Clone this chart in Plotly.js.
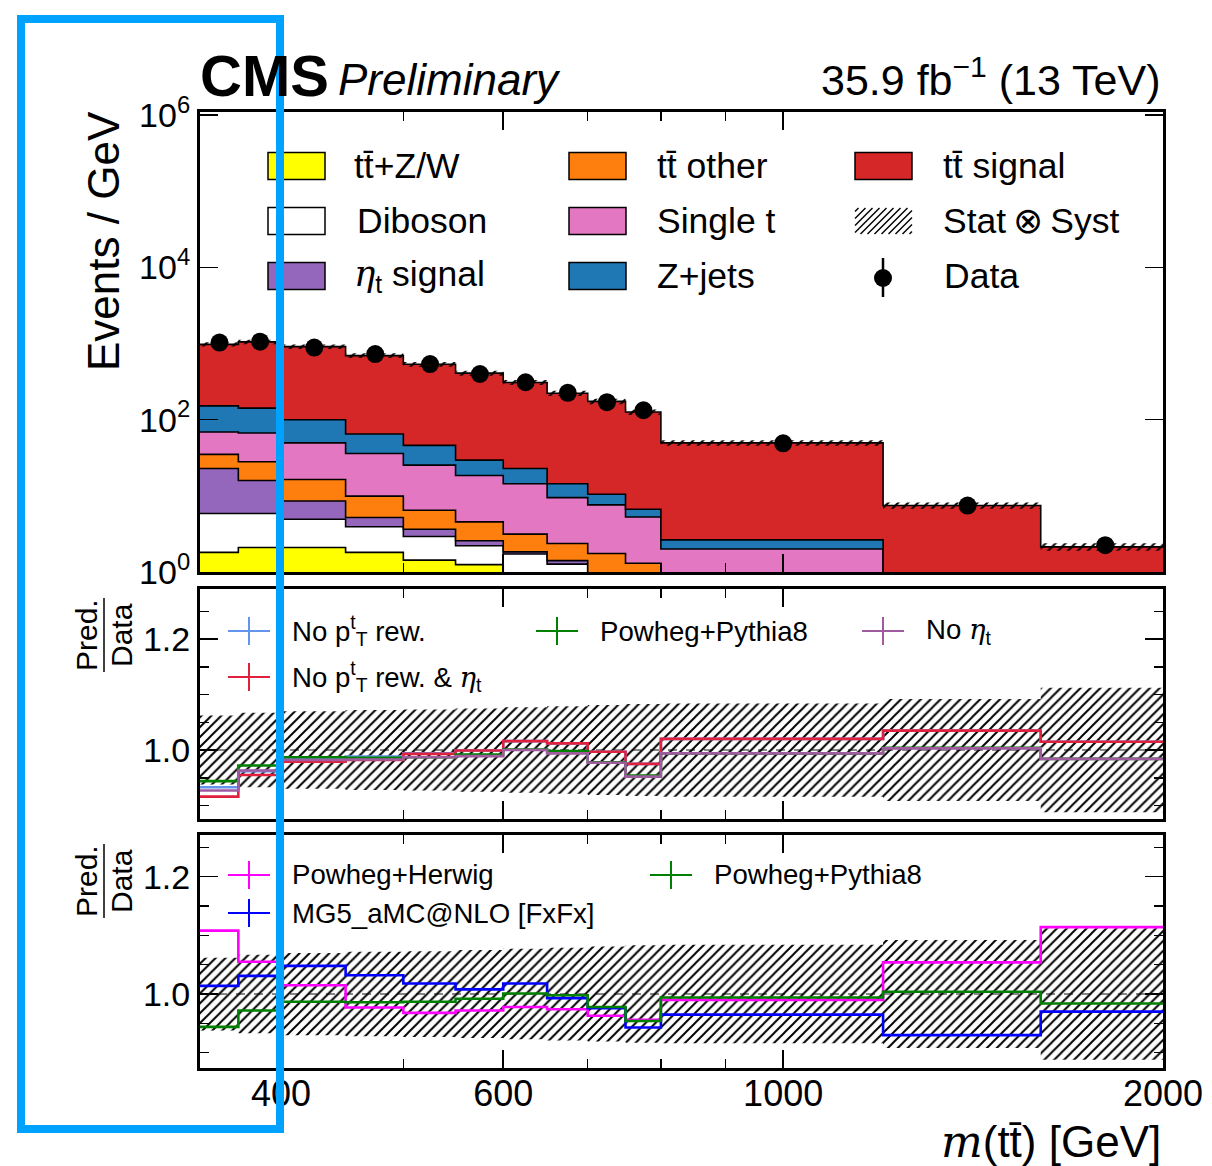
<!DOCTYPE html>
<html>
<head>
<meta charset="utf-8">
<script src="https://cdn.plot.ly/plotly-3.0.1.min.js"></script>
<style>html,body{margin:0;padding:0;background:#fff;}#chart{width:1212px;height:1166px;}</style>
</head>
<body>
<div id="chart"></div>
<script>
// ---------------- DATA ----------------
const binEdges = [345, 370, 400, 450, 500, 550, 600, 650, 700, 750, 800, 1200, 1600, 2000];
// stacked components, events / GeV (bottom to top)
const ttZW      = [1.81, 2.1, 2.1, 1.81, 1.43, 1.25, 0.7, 0.5, 0.3, 0.2, 0.1, 0.05, 0.02];
const diboson   = [4.04, 3.75, 2.83, 2.11, 1.5, 0.96, 1.02, 0.77, 0.55, 0.3, 0.2, 0.1, 0.05];
const etaSignal = [17.05, 10.05, 3.62, 1.28, 0.72, 0.36, 0.12, 0.14, 0.1, 0.1, 0.05, 0.02, 0.01];
const ttOther   = [12.1, 12.1, 7.85, 4.7, 2.81, 1.98, 1.3, 0.96, 0.8, 0.7, 0.45, 0.2, 0.1];
const singleT   = [34, 39, 33.2, 26.1, 18.84, 13.95, 11.26, 7.1, 5.85, 3.98, 1.2, 0.3, 0.1];
const zJets     = [83, 75, 50.4, 29, 20.7, 10.9, 8.5, 4.93, 2.9, 1.38, 0.64, 0.2, 0.1];
const ttSignal  = [823, 908, 810, 628, 488, 378.6, 285.1, 207.6, 163.5, 119.3, 46.96, 6.6, 1.76];
const dataVals  = [1028, 1059, 885, 726, 537, 398, 310, 225, 170, 133, 48.9, 7.45, 2.25];
// relative Stat (x) Syst uncertainty
const uncRel    = [0.062, 0.067, 0.070, 0.072, 0.073, 0.075, 0.077, 0.079, 0.081, 0.083, 0.084, 0.092, 0.112];
// ratio panel 1 (Pred./Data)
const noPtRew        = [0.933, 0.962, 0.985, 0.988, 0.994, 0.999, 1.016, 1.012, 0.997, 0.975, 1.020, 1.035, 1.015];
const noPtRewNoEta   = [0.916, 0.955, 0.979, 0.982, 0.993, 0.999, 1.016, 1.012, 0.997, 0.975, 1.020, 1.035, 1.015];
const powhegPythia8  = [0.944, 0.972, 0.987, 0.986, 0.987, 0.992, 1.001, 0.998, 0.978, 0.954, 0.994, 1.004, 0.984];
const noEta          = [0.927, 0.963, 0.982, 0.983, 0.987, 0.989, 1.000, 0.994, 0.977, 0.952, 0.994, 1.003, 0.984];
// ratio panel 2
const powhegHerwig   = [1.108, 1.055, 1.015, 0.977, 0.968, 0.972, 0.978, 0.974, 0.963, 0.956, 0.990, 1.054, 1.114];
const mg5FxFx        = [1.014, 1.031, 1.048, 1.032, 1.018, 1.008, 1.018, 0.993, 0.976, 0.943, 0.965, 0.930, 0.970];
const xTickVals = [400, 600, 1000, 2000];
const xTickText = ['400', '600', '1000', '2000'];
const xMinorVals = [500, 700, 800, 900];

// ---------------- GEOMETRY HELPERS ----------------
const W = 1212, H = 1166, ML = 200, MR = 49, MT = 112, MB = 98;
const PW = W - ML - MR, PH = H - MT - MB;
const px = x => (x - ML) / PW;
const py = y => (H - MB - y) / PH;
const FONT = 'Liberation Sans, Arial, Helvetica, sans-serif';

const stepY = v => v.concat([v[v.length - 1]]);
const centers = binEdges.slice(0, -1).map((e, i) => 0.5 * (e + binEdges[i + 1]));

const traces = [];
// ---------------- TOP PANEL STACK ----------------
const comps = [
  {v: ttZW, c: '#ffff00'},
  {v: diboson, c: '#ffffff'},
  {v: etaSignal, c: '#9467bd'},
  {v: ttOther, c: '#ff7f0e'},
  {v: singleT, c: '#e377c2'},
  {v: zJets, c: '#1f77b4'},
  {v: ttSignal, c: '#d62728'}
];
traces.push({x: binEdges, y: stepY(binEdges.slice(0, -1).map(() => 1e-3)), xaxis: 'x', yaxis: 'y',
  mode: 'lines', line: {shape: 'hv', width: 0, color: 'rgba(0,0,0,0)'}, hoverinfo: 'skip', showlegend: false});
let cum = binEdges.slice(0, -1).map(() => 0);
comps.forEach(cp => {
  cum = cum.map((s, i) => s + cp.v[i]);
  traces.push({x: binEdges, y: stepY(cum.slice()), xaxis: 'x', yaxis: 'y', mode: 'lines',
    line: {shape: 'hv', width: 1.6, color: '#000'}, fill: 'tonexty', fillcolor: cp.c, showlegend: false});
});
const total = cum.slice();
const hatch = {shape: '/', fgcolor: '#000', bgcolor: 'rgba(0,0,0,0)', size: 7, solidity: 0.28};
traces.push({x: binEdges, y: stepY(total.map((t, i) => t * (1 - uncRel[i]))), xaxis: 'x', yaxis: 'y',
  mode: 'lines', line: {shape: 'hv', width: 0, color: 'rgba(0,0,0,0)'}, showlegend: false});
traces.push({x: binEdges, y: stepY(total.map((t, i) => t * (1 + uncRel[i]))), xaxis: 'x', yaxis: 'y',
  mode: 'lines', line: {shape: 'hv', width: 0, color: 'rgba(0,0,0,0)'}, fill: 'tonexty',
  fillcolor: 'rgba(0,0,0,0)', fillpattern: hatch, showlegend: false});
traces.push({x: centers, y: dataVals, xaxis: 'x', yaxis: 'y', mode: 'markers',
  marker: {size: 18, color: '#000'}, showlegend: false});

// ---------------- RATIO PANELS ----------------
function band(xa, ya) {
  traces.push({x: binEdges, y: stepY(uncRel.map(u => 1 - u)), xaxis: xa, yaxis: ya, mode: 'lines',
    line: {shape: 'hv', width: 0, color: 'rgba(0,0,0,0)'}, showlegend: false});
  traces.push({x: binEdges, y: stepY(uncRel.map(u => 1 + u)), xaxis: xa, yaxis: ya, mode: 'lines',
    line: {shape: 'hv', width: 0, color: 'rgba(0,0,0,0)'}, fill: 'tonexty', fillcolor: 'rgba(0,0,0,0)',
    fillpattern: hatch, showlegend: false});
}
function ratioLine(v, color, xa, ya) {
  traces.push({x: binEdges, y: stepY(v), xaxis: xa, yaxis: ya, mode: 'lines',
    line: {shape: 'hv', width: 2.6, color: color}, showlegend: false});
}
const C_BLUE = '#6495ed', C_RED = '#e0203c', C_GREEN = '#008000', C_PURP = '#a05aa0', C_MAG = '#ff00ff', C_MG = '#0000ff';
band('x2', 'y2');
ratioLine(noPtRew, C_BLUE, 'x2', 'y2');
ratioLine(noPtRewNoEta, C_RED, 'x2', 'y2');
ratioLine(powhegPythia8, C_GREEN, 'x2', 'y2');
ratioLine(noEta, C_PURP, 'x2', 'y2');
band('x3', 'y3');
ratioLine(powhegHerwig, C_MAG, 'x3', 'y3');
ratioLine(mg5FxFx, C_MG, 'x3', 'y3');
ratioLine(powhegPythia8, C_GREEN, 'x3', 'y3');

// ---------------- AXES ----------------
const xr = [Math.log10(binEdges[0]), Math.log10(binEdges[binEdges.length - 1])];
function xAxis(anchor, labels) {
  return {type: 'log', range: xr, domain: [0, 1], anchor: anchor, showgrid: false, zeroline: false,
    showline: true, linecolor: '#000', linewidth: 3, mirror: 'ticks', ticks: 'inside', ticklen: 18,
    tickwidth: 1.5, tickcolor: '#000', tickmode: 'array', tickvals: xTickVals, ticktext: xTickText,
    showticklabels: labels, tickfont: {family: FONT, size: 36, color: '#000'}, ticklabelstandoff: -8,
    minor: {tickmode: 'array', tickvals: xMinorVals, ticks: 'inside', ticklen: 9, tickwidth: 1.5, tickcolor: '#000', showgrid: false}};
}
function yRatio(dom, rng, anchor) {
  return {domain: dom, range: rng, anchor: anchor, showgrid: false, zeroline: false, showline: true,
    linecolor: '#000', linewidth: 3, mirror: 'ticks', ticks: 'inside', ticklen: 18, tickwidth: 1.5,
    tickcolor: '#000', tickmode: 'array', tickvals: [1.0, 1.2], ticktext: ['1.0', '1.2'],
    tickfont: {family: FONT, size: 34, color: '#000'},
    minor: {tickmode: 'linear', tick0: 0, dtick: 0.05, ticks: 'inside', ticklen: 9, tickwidth: 1.5, tickcolor: '#000', showgrid: false}};
}
const layout = {
  width: W, height: H, paper_bgcolor: '#fff', plot_bgcolor: '#fff', showlegend: false,
  margin: {l: ML, r: MR, t: MT, b: MB},
  font: {family: FONT, color: '#000'},
  xaxis: xAxis('y', false),
  xaxis2: Object.assign(xAxis('y2', false), {matches: 'x'}),
  xaxis3: Object.assign(xAxis('y3', true), {matches: 'x'}),
  yaxis: {type: 'log', domain: [py(572), 1], range: [0, 6.04], anchor: 'x', showgrid: false, zeroline: false,
    showline: true, linecolor: '#000', linewidth: 3, mirror: 'ticks', ticks: 'inside', ticklen: 18,
    tickwidth: 1.5, tickcolor: '#000', tickmode: 'array', tickvals: [1, 100, 1e4, 1e6],
    ticktext: ['10<sup>0</sup>', '10<sup>2</sup>', '10<sup>4</sup>', '10<sup>6</sup>'],
    tickfont: {family: FONT, size: 34, color: '#000'}},
  yaxis2: yRatio([py(818.5), py(588.5)], [0.8766, 1.291], 'x2'),
  yaxis3: yRatio([0, py(835)], [0.874, 1.271], 'x3'),
  shapes: [], annotations: []
};
const S = layout.shapes, A = layout.annotations;
// dashed unity lines
['y2', 'y3'].forEach(ya => S.push({type: 'line', xref: 'paper', x0: 0, x1: 1, yref: ya, y0: 1, y1: 1,
  line: {color: '#888', width: 2, dash: 'dash'}, layer: 'below'}));

function txt(text, x, y, size, opts) {
  A.push(Object.assign({text: text, x: px(x), y: py(y), xref: 'paper', yref: 'paper', showarrow: false,
    xanchor: 'left', yanchor: 'middle', font: {family: FONT, size: size, color: '#000'}}, opts || {}));
}
function rect(x0, y0, x1, y1, fill, lw) {
  S.push({type: 'rect', xref: 'paper', yref: 'paper', x0: px(x0), x1: px(x1), y0: py(y1), y1: py(y0),
    fillcolor: fill, line: {color: '#000', width: lw}});
}
function seg(x0, y0, x1, y1, color, w) {
  S.push({type: 'line', xref: 'paper', yref: 'paper', x0: px(x0), x1: px(x1), y0: py(y0), y1: py(y1),
    line: {color: color, width: w}});
}
function hatchBox(x0, y0, x1, y1, d) {
  for (let k = x0 + y0 + d / 2; k < x1 + y1; k += d) {
    const xa = Math.max(x0, k - y1), xb = Math.min(x1, k - y0);
    if (xb > xa) seg(xa, k - xa, xb, k - xb, '#000', 1.5);
  }
}
function cross(xc, yc, color) {
  seg(xc - 21, yc, xc + 21, yc, color, 2);
  seg(xc, yc - 14, xc, yc + 14, color, 2);
}

// ---------------- HEADER ----------------
txt('<b>CMS</b>', 198, 76, 58);
txt('<i>Preliminary</i>', 336, 80, 44);
txt('35.9 fb<sup>−1</sup> (13 TeV)', 1163, 77, 43, {xanchor: 'right'});
// axis titles
txt('Events / GeV', 103, 241, 44, {xanchor: 'center', textangle: -90});
txt('<span style="font-family:DejaVu Serif"><i>m</i></span>(tt\u0304) [GeV]', 1163, 1141, 44, {xanchor: 'right'});
[[635], [881]].forEach(([yc]) => {
  txt('Pred.', 86, yc, 30, {xanchor: 'center', textangle: -90});
  txt('Data', 121, yc, 30, {xanchor: 'center', textangle: -90});
  seg(104, yc - 37, 104, yc + 37, '#000', 1.5);
});

// ---------------- TOP LEGEND ----------------
const rowsY = [166, 221, 276];
const eta = '<span style="font-family:DejaVu Serif"><i>η</i></span><sub>t</sub>';
const LF = 35.5;
rect(268, rowsY[0] - 13.5, 325, rowsY[0] + 13.5, '#ffff00', 1.5); txt('tt\u0304+Z/W', 352, rowsY[0], LF);
rect(268, rowsY[1] - 13.5, 325, rowsY[1] + 13.5, '#ffffff', 1.5); txt('Diboson', 355, rowsY[1], LF);
rect(268, rowsY[2] - 13.5, 325, rowsY[2] + 13.5, '#9467bd', 1.5); txt(eta + ' signal', 352, rowsY[2], LF);
rect(569, rowsY[0] - 13.5, 626, rowsY[0] + 13.5, '#ff7f0e', 1.5); txt('tt\u0304 other', 655, rowsY[0], LF);
rect(569, rowsY[1] - 13.5, 626, rowsY[1] + 13.5, '#e377c2', 1.5); txt('Single t', 655, rowsY[1], LF);
rect(569, rowsY[2] - 13.5, 626, rowsY[2] + 13.5, '#1f77b4', 1.5); txt('Z+jets', 655, rowsY[2], LF);
rect(855, rowsY[0] - 13.5, 912, rowsY[0] + 13.5, '#d62728', 1.5); txt('tt\u0304 signal', 941, rowsY[0], LF);
hatchBox(855, rowsY[1] - 13, 912, rowsY[1] + 13, 7); txt('Stat\u2009⊗\u2009Syst', 941, rowsY[1], LF);
seg(883, 258, 883, 297, '#000', 2.5);
S.push({type: 'circle', xref: 'paper', yref: 'paper', x0: px(874), x1: px(892), y0: py(287), y1: py(269),
  fillcolor: '#000', line: {color: '#000', width: 0}});
txt('Data', 942, rowsY[2], LF);

// ---------------- RATIO LEGENDS ----------------
const RF = 27.6;
cross(249, 631, C_BLUE);  txt('No p<sup>t</sup><sub>T</sub> rew.', 290, 631, RF);
cross(249, 677, C_RED);   txt('No p<sup>t</sup><sub>T</sub> rew. &amp; ' + eta, 290, 677, RF);
cross(557, 631, C_GREEN); txt('Powheg+Pythia8', 598, 631, RF);
cross(883, 631, C_PURP);  txt('No ' + eta, 924, 631, RF);
cross(249, 875, C_MAG);   txt('Powheg+Herwig', 290, 875, RF);
cross(249, 913, C_MG);    txt('MG5_aMC@NLO [FxFx]', 290, 913, RF);
cross(671, 875, C_GREEN); txt('Powheg+Pythia8', 712, 875, RF);

// ---------------- HIGHLIGHT FRAME ----------------
S.push({type: 'rect', xref: 'paper', yref: 'paper', x0: px(21), x1: px(280), y0: py(1129), y1: py(19),
  line: {color: '#00a2ff', width: 8}, fillcolor: 'rgba(0,0,0,0)', layer: 'above'});

Plotly.newPlot('chart', traces, layout, {staticPlot: true, displayModeBar: false});
</script>
</body>
</html>
